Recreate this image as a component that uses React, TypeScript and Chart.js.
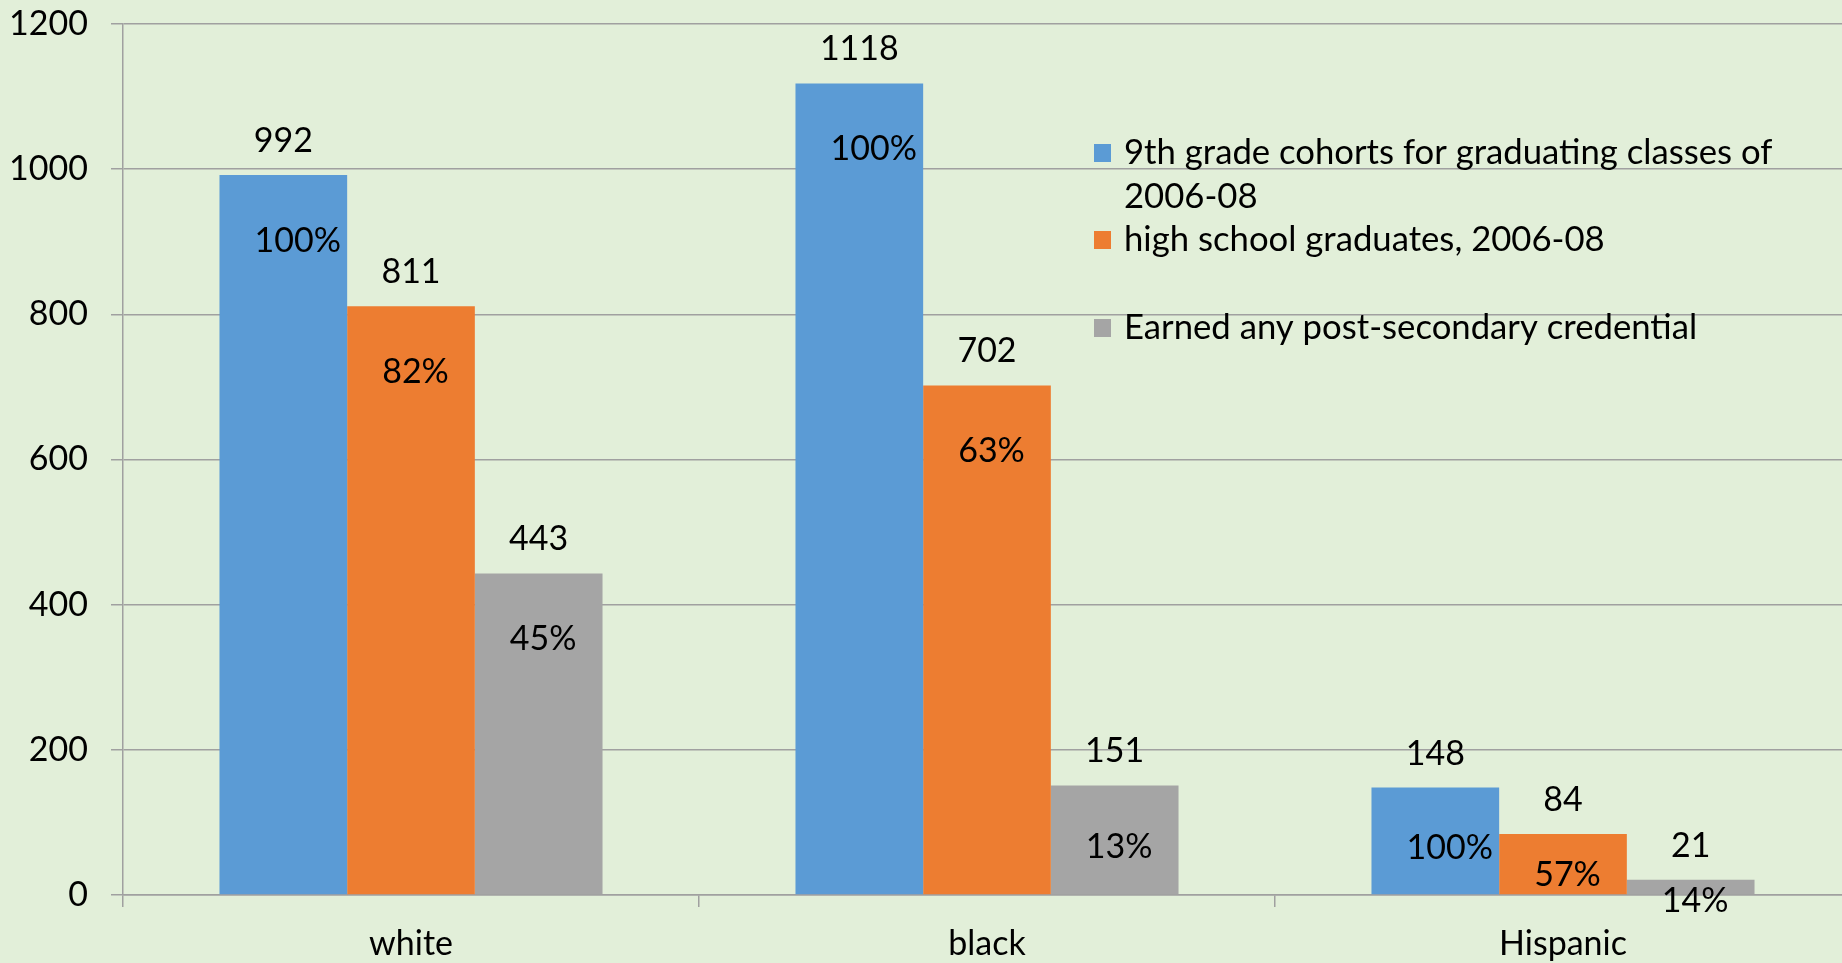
import React, { useEffect, useRef } from 'react';
import { Chart, registerables } from 'chart.js';

Chart.register(...registerables);

const categories = ['white', 'black', 'Hispanic'];
const seriesNames = [
  '9th grade cohorts for graduating classes of 2006-08',
  'high school graduates, 2006-08',
  'Earned any post-secondary credential',
];
const cohortValues = [992, 1118, 148];
const graduateValues = [811, 702, 84];
const credentialValues = [443, 151, 21];
const cohortPercents = ['100%', '100%', '100%'];
const graduatePercents = ['82%', '63%', '57%'];
const credentialPercents = ['45%', '13%', '14%'];
const yTicks = [0, 200, 400, 600, 800, 1000, 1200];

const colors = ['#5b9bd5', '#ed7d31', '#a5a5a5'];
const FONT = 'Lato';
const FONT_SIZE = 34;
const LEGEND_FONT_SIZE = 34.7;
const GRID = '#a0a0a0';
const BG = '#e2efd9';

const percentSets = [cohortPercents, graduatePercents, credentialPercents];

const bgPlugin = {
  id: 'bg',
  beforeDraw(chart: any) {
    const { ctx, width, height } = chart;
    ctx.save();
    ctx.fillStyle = BG;
    ctx.fillRect(0, 0, width, height);
    ctx.restore();
  },
};

const labelPlugin = {
  id: 'barLabels',
  afterDatasetsDraw(chart: any) {
    const { ctx } = chart;
    ctx.save();
    ctx.fillStyle = '#000';
    ctx.font = `${FONT_SIZE}px ${FONT}`;
    ctx.textBaseline = 'middle';
    chart.data.datasets.forEach((ds: any, di: number) => {
      const meta = chart.getDatasetMeta(di);
      meta.data.forEach((bar: any, i: number) => {
        const { x, y, base, width } = bar.getProps(['x', 'y', 'base', 'width'], true);
        ctx.textAlign = 'center';
        ctx.fillText(String(ds.data[i]), x, y - 34);
        const h = base - y;
        const off = Math.min(66, 15 + 0.43 * h);
        ctx.textAlign = 'left';
        ctx.fillText(percentSets[di][i], x - width / 2 + 35, y + off);
      });
    });
    ctx.restore();
  },
};

function wrap(ctx: any, text: string, maxW: number): string[] {
  const words = text.split(' ');
  const lines: string[] = [];
  let cur = '';
  for (const w of words) {
    const t = cur ? cur + ' ' + w : w;
    if (ctx.measureText(t).width > maxW && cur) {
      lines.push(cur);
      cur = w;
    } else cur = t;
  }
  if (cur) lines.push(cur);
  return lines;
}

const legendPlugin = {
  id: 'customLegend',
  afterDraw(chart: any) {
    const { ctx } = chart;
    ctx.save();
    ctx.font = `${LEGEND_FONT_SIZE}px ${FONT}`;
    ctx.textBaseline = 'middle';
    ctx.textAlign = 'left';
    const entryY = [153, 240, 328];
    seriesNames.forEach((name, i) => {
      const y0 = entryY[i];
      ctx.fillStyle = colors[i];
      ctx.fillRect(1094, y0 - 9, 17, 18);
      ctx.fillStyle = '#000';
      const lines = wrap(ctx, name, 700);
      lines.forEach((ln, k) => ctx.fillText(ln, 1124, y0 + k * 44));
    });
    ctx.restore();
  },
};

export default function App() {
  const ref = useRef<HTMLCanvasElement>(null);
  useEffect(() => {
    document.body.style.margin = '0';
    document.body.style.overflow = 'hidden';
    const canvas = ref.current!;
    const chart = new Chart(canvas, {
      type: 'bar',
      data: {
        labels: categories,
        datasets: [
          { label: seriesNames[0], data: cohortValues, backgroundColor: colors[0] },
          { label: seriesNames[1], data: graduateValues, backgroundColor: colors[1] },
          { label: seriesNames[2], data: credentialValues, backgroundColor: colors[2] },
        ].map((d) => ({ ...d, categoryPercentage: 0.665, barPercentage: 1.0, borderWidth: 0 })),
      },
      options: {
        responsive: false,
        animation: false,
        layout: { padding: { top: 24, right: 0, left: 0, bottom: 0 } },
        plugins: { legend: { display: false }, tooltip: { enabled: false } },
        scales: {
          x: {
            grid: { offset: true, drawOnChartArea: false, drawTicks: true, tickLength: 12, color: GRID, lineWidth: 1.5 },
            border: { color: GRID, width: 1.5 },
            ticks: { color: '#000', font: { family: FONT, size: FONT_SIZE }, padding: 17 },
            afterFit(scale: any) {
              scale.height = 68;
              scale.paddingLeft = 0;
              scale.paddingRight = 0;
            },
          },
          y: {
            min: 0,
            max: 1200,
            afterBuildTicks(scale: any) { scale.ticks = yTicks.map((v) => ({ value: v })); },
            grid: { color: GRID, lineWidth: 1.5, tickLength: 12 },
            border: { color: GRID, width: 1.5 },
            ticks: {
              color: '#000',
              font: { family: FONT, size: FONT_SIZE },
              padding: 23,
              callback: (v: any) => String(v),
            },
            afterFit(scale: any) {
              scale.width = 123;
              scale.paddingTop = 0;
              scale.paddingBottom = 0;
            },
          },
        },
      },
      plugins: [bgPlugin, labelPlugin, legendPlugin],
    });
    return () => chart.destroy();
  }, []);
  return <canvas ref={ref} width={1851} height={963} style={{ display: 'block' }} />;
}
